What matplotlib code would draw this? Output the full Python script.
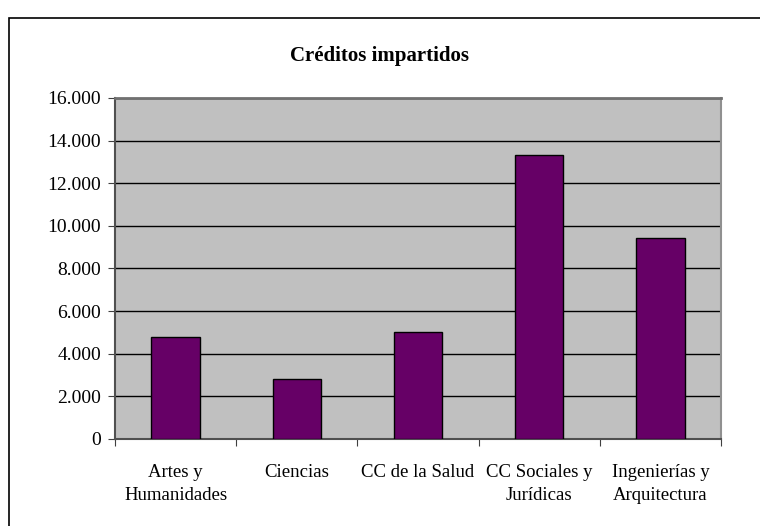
import matplotlib
matplotlib.use("Agg")
import matplotlib.pyplot as plt
from matplotlib.patches import Rectangle
from matplotlib.ticker import FuncFormatter, FixedLocator
import numpy as np

categories = ["Artes y\nHumanidades", "Ciencias", "CC de la Salud",
              "CC Sociales y\nJurídicas", "Ingenierías y\nArquitectura"]
creditos = [4770, 2830, 5010, 13330, 9450]
y_ticks = [0, 2000, 4000, 6000, 8000, 10000, 12000, 14000, 16000]

plt.rcParams["font.family"] = ["Liberation Serif", "DejaVu Serif"]

fig = plt.figure(figsize=(7.6, 5.26), dpi=100)
ax = fig.add_axes([0.1513, 0.1654, 0.7974, 0.6483])

x = np.arange(len(categories))
ax.set_facecolor("#C0C0C0")
ax.bar(x, creditos, 0.4, color="#660066", edgecolor="black", linewidth=1, zorder=3)

ax.set_xlim(-0.5, len(categories) - 0.5)
ax.set_ylim(0, 16000)
ax.set_yticks(y_ticks)
ax.yaxis.set_major_formatter(FuncFormatter(lambda v, p: f"{int(v):,}".replace(",", ".")))
ax.grid(True, axis="y", color="black", linewidth=1, zorder=1)

# category labels centred, tick marks between categories
ax.xaxis.set_major_locator(FixedLocator(np.arange(-0.5, len(categories), 1.0)))
ax.set_xticklabels([])
ax.xaxis.set_minor_locator(FixedLocator(x))
ax.set_xticklabels(categories, minor=True, fontsize=13.5, linespacing=1.45)
ax.tick_params(axis="x", which="minor", length=0, pad=18)
ax.tick_params(axis="x", which="major", length=5, color="#404040")
ax.tick_params(axis="y", length=5, color="#404040", labelsize=14, pad=5)

for side in ["left", "bottom"]:
    ax.spines[side].set_color("#505050")
    ax.spines[side].set_linewidth(1.5)
ax.spines["top"].set_color("#707070")
ax.spines["top"].set_linewidth(2)
ax.spines["right"].set_color("#909090")
ax.spines["right"].set_linewidth(1.5)

fig.text(0.5, 0.893, "Créditos impartidos", ha="center", va="center",
         fontsize=15, fontweight="bold")

fig.patches.append(Rectangle((9 / 760, -0.05), 1.05, 1 - 18 / 526 + 0.05,
                             transform=fig.transFigure, fill=False,
                             edgecolor="black", linewidth=1.2))

fig.savefig("out.png", dpi=100)
